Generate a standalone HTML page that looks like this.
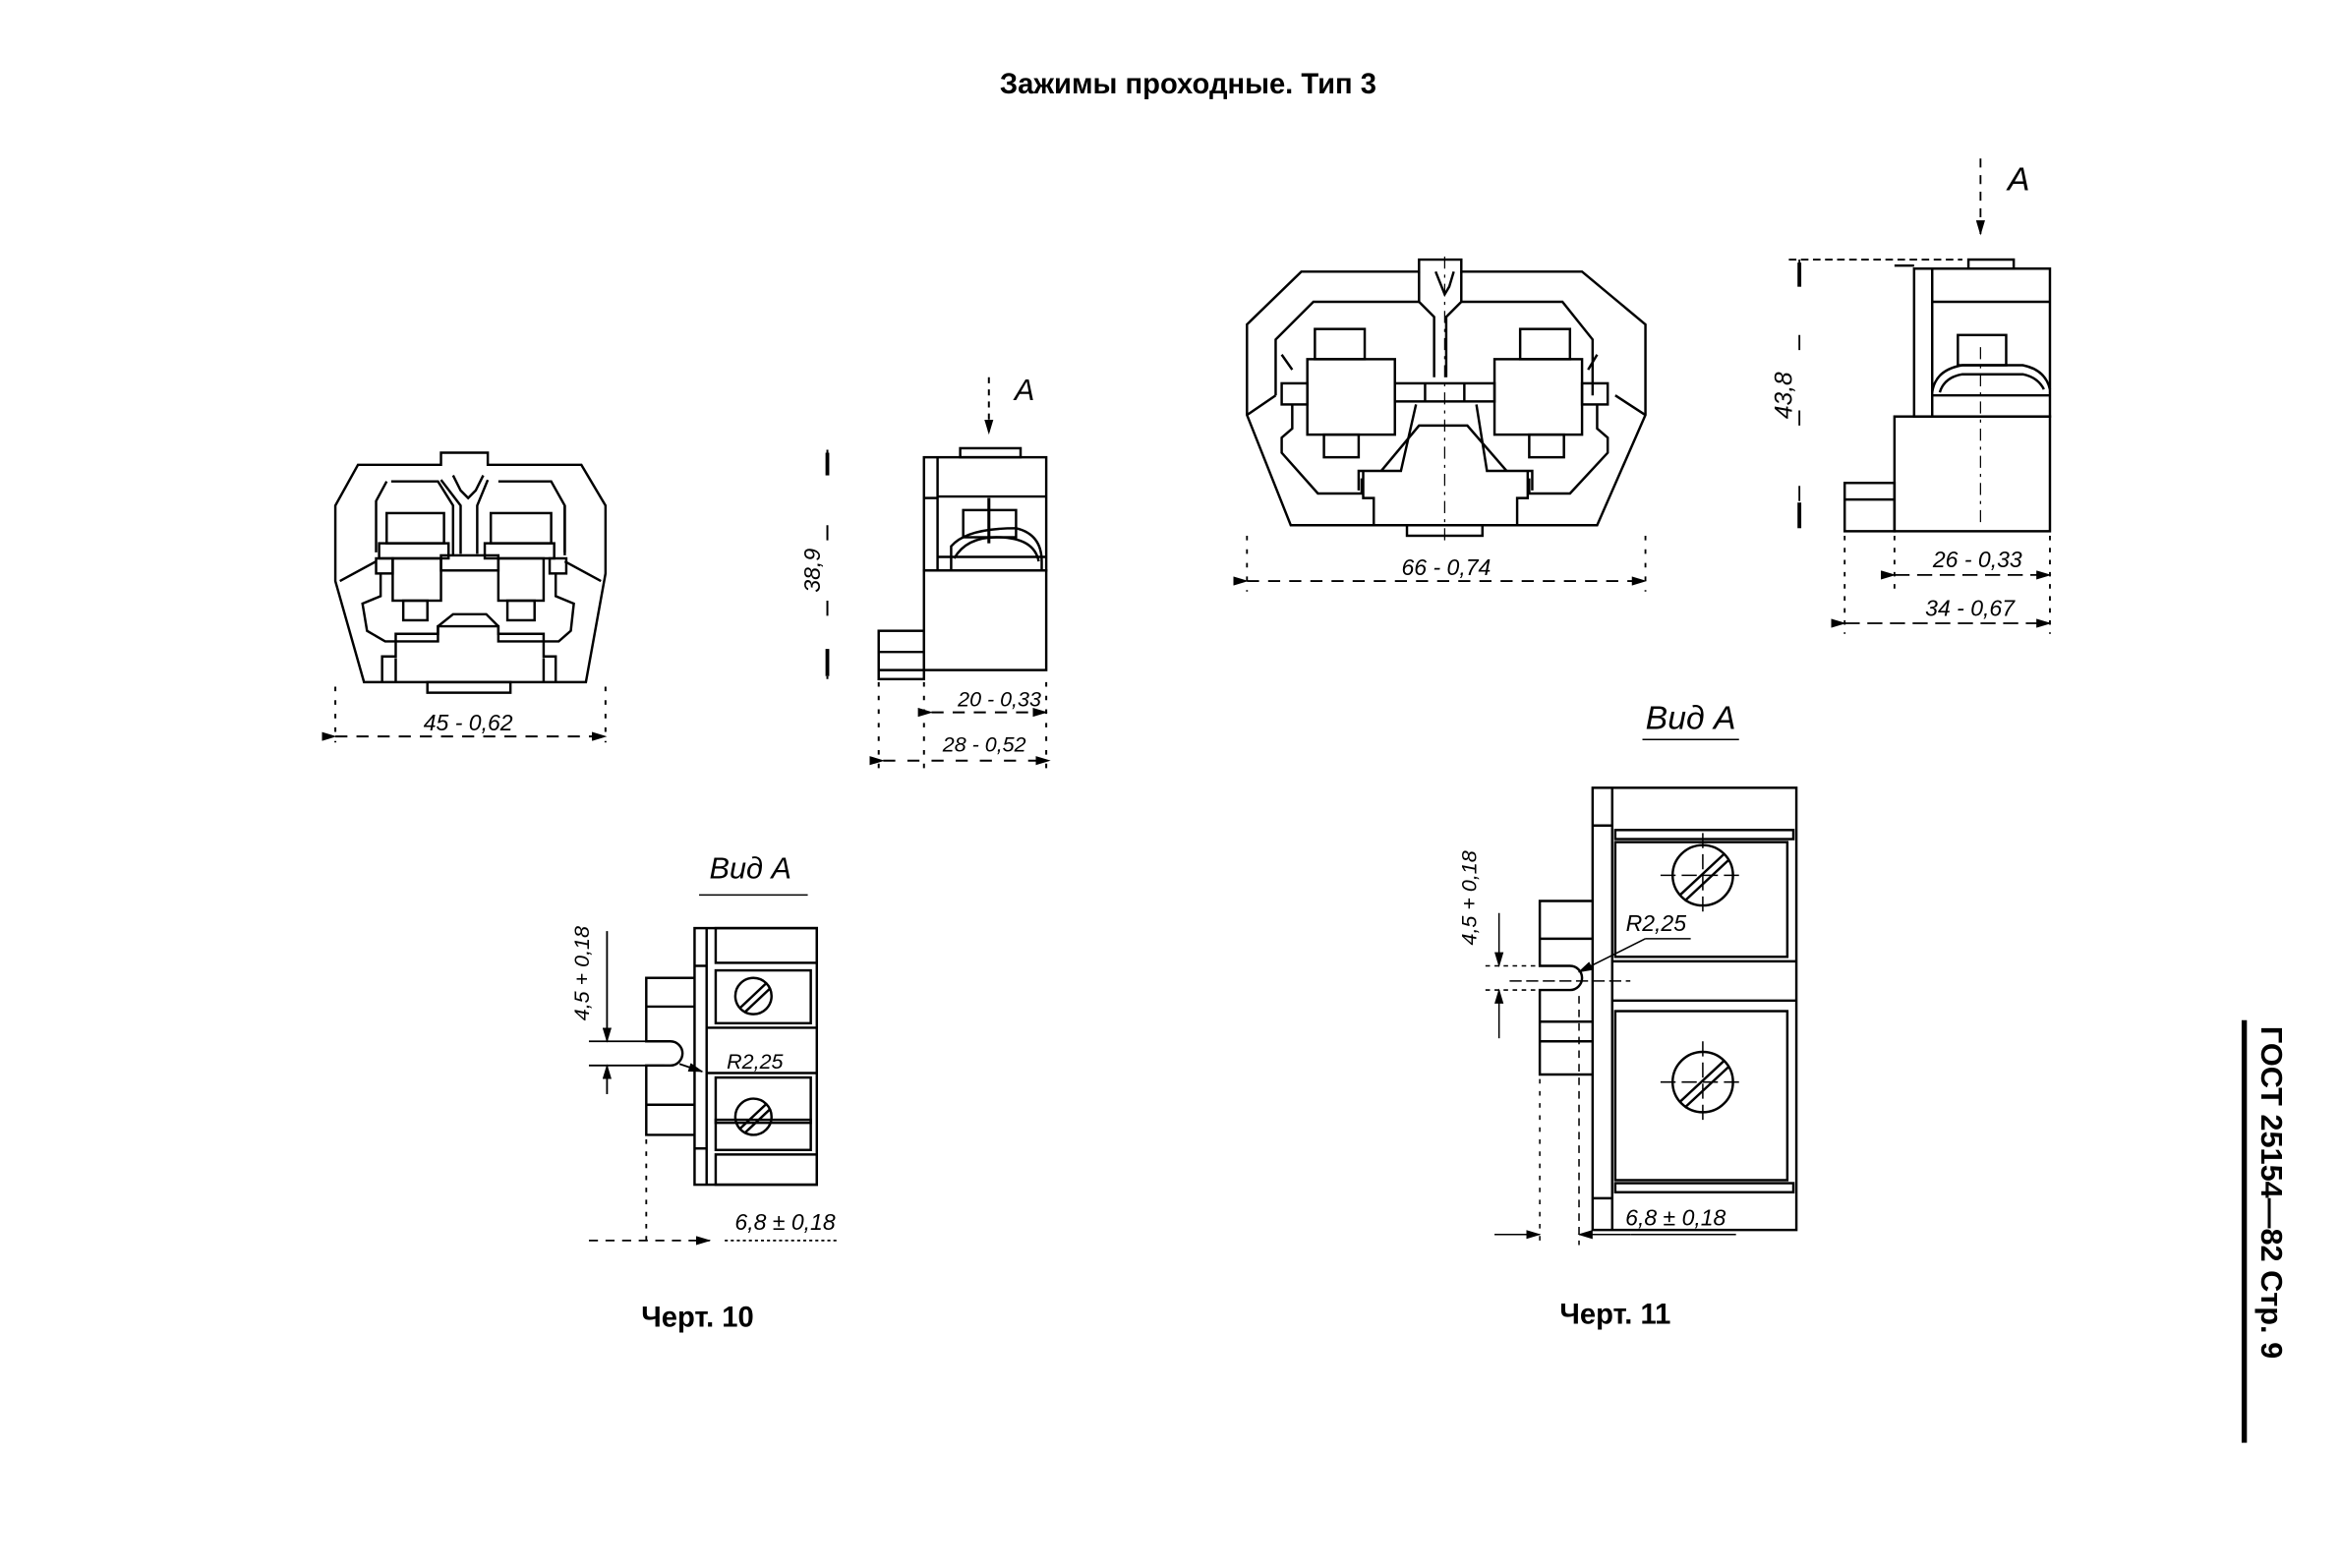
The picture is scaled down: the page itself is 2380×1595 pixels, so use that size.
<!DOCTYPE html>
<html><head><meta charset="utf-8"><style>
html,body{margin:0;padding:0;background:#fff;}
svg{display:block;}
text{font-family:"Liberation Sans","DejaVu Sans",sans-serif;fill:#000;}
.d{font-family:"Liberation Sans Narrow","Liberation Sans",sans-serif;font-style:italic;}
</style></head><body>
<svg width="2380" height="1595" viewBox="0 0 1550 1039" xmlns="http://www.w3.org/2000/svg">
<defs><marker id="ar" markerWidth="10" markerHeight="6" refX="9" refY="3" orient="auto" markerUnits="userSpaceOnUse"><path d="M0,0 L10,3 L0,6 z"/></marker></defs>
<text x="787" y="62" font-size="19" font-weight="bold" text-anchor="middle">Зажимы проходные. Тип 3</text>

<!-- ===== Черт 10 front ===== -->
<g fill="none" stroke="#000" stroke-width="1.6">
<polygon points="237,308 292,308 292,300 323,300 323,308 385,308 401,335 401,380 388,452 241,452 222,385 222,335"/>
<path d="M300,315 L305,325 L310,330 L315,325 L320,315"/>
<path d="M292,318 L305,335 L305,367 M323,318 L316,335 L316,367"/>
<path d="M259,319 L290,319 L300,335 L300,368 M330,319 L365,319 L374,335 L374,368"/>
<path d="M256,319 L249,332 L249,366 M374,335 L374,366"/>
<path d="M225,385 L249,372 M398,385 L374,372"/>
<rect x="256" y="340" width="38" height="20"/>
<rect x="325" y="340" width="40" height="20"/>
<rect x="251" y="360" width="46" height="10"/>
<rect x="321" y="360" width="46" height="10"/>
<rect x="260" y="370" width="32" height="28"/>
<rect x="330" y="370" width="30" height="28"/>
<rect x="249" y="370" width="11" height="10"/>
<rect x="364" y="370" width="11" height="10"/>
<rect x="292" y="368" width="38" height="10"/>
<rect x="267" y="398" width="16" height="13"/>
<rect x="336" y="398" width="18" height="13"/>
<path d="M252,380 L252,395 L240,400 L243,418 L255,425 L290,425 L290,415 L300,407 L322,407 L330,415 L330,425 L370,425 L378,418 L380,400 L368,395 L368,380"/>
<path d="M253,452 L253,435 L262,435 L262,420 L290,420 L290,415 L330,415 L330,420 L360,420 L360,435 L368,435 L368,452"/>
<path d="M262,436 L262,452 M360,436 L360,452"/>
<rect x="283" y="452" width="55" height="7"/>
</g>
<g stroke="#000" stroke-width="1.3" fill="none">
<line x1="222" y1="455" x2="222" y2="492" stroke-dasharray="3,6"/>
<line x1="401" y1="455" x2="401" y2="492" stroke-dasharray="3,6"/>
<line x1="222" y1="488" x2="401" y2="488" stroke-dasharray="8,6" marker-end="url(#ar)" marker-start="url(#ar)"/>
</g>
<text class="d" x="310" y="484" font-size="15" text-anchor="middle">45 - 0,62</text>

<!-- ===== Черт 10 side ===== -->
<g fill="none" stroke="#000" stroke-width="1.6">
<rect x="636" y="297" width="40" height="6"/>
<rect x="612" y="303" width="81" height="75"/>
<line x1="621" y1="303" x2="621" y2="378"/>
<line x1="612" y1="330" x2="621" y2="330"/>
<line x1="621" y1="329" x2="693" y2="329"/>
<rect x="638" y="338" width="35" height="18"/>
<path d="M630,378 L630,362 Q640,350 673,350 Q690,354 690,372 L690,378"/>
<path d="M632,370 Q640,356 660,356 Q685,356 688,372"/>
<line x1="621" y1="369" x2="693" y2="369"/>
<rect x="612" y="378" width="81" height="66"/>
<rect x="582" y="418" width="30" height="32"/>
<line x1="582" y1="432" x2="612" y2="432"/>
<line x1="582" y1="444" x2="612" y2="444"/>
</g>
<g stroke="#000" stroke-width="1.3" fill="none">
<line x1="655" y1="250" x2="655" y2="287" stroke-dasharray="4,4" marker-end="url(#ar)"/>
<line x1="655" y1="330" x2="655" y2="360" stroke-width="2"/>
<line x1="548" y1="298" x2="548" y2="450" stroke-dasharray="10,40"/>
<line x1="548" y1="300" x2="548" y2="315" stroke-width="2.5"/>
<line x1="548" y1="430" x2="548" y2="448" stroke-width="2.5"/>
<line x1="612" y1="452" x2="612" y2="510" stroke-dasharray="3,6"/>
<line x1="693" y1="452" x2="693" y2="510" stroke-dasharray="3,6"/>
<line x1="582" y1="452" x2="582" y2="510" stroke-dasharray="3,6"/>
<line x1="617" y1="472" x2="693" y2="472" stroke-dasharray="8,6" marker-end="url(#ar)" marker-start="url(#ar)"/>
<line x1="585" y1="504" x2="695" y2="504" stroke-dasharray="8,8" marker-end="url(#ar)" marker-start="url(#ar)"/>
</g>
<text class="d" x="672" y="265" font-size="20">A</text>
<text class="d" x="0" y="0" font-size="15" transform="translate(543,378) rotate(-90)" text-anchor="middle">38,9</text>
<text class="d" x="662" y="468" font-size="14" text-anchor="middle">20 - 0,33</text>
<text class="d" x="652" y="498" font-size="14" text-anchor="middle">28 - 0,52</text>

<!-- ===== Черт 10 view A ===== -->
<text class="d" x="497" y="582" font-size="20" text-anchor="middle">Вид A</text>
<line x1="463" y1="593" x2="535" y2="593" stroke="#000" stroke-width="1"/>
<g fill="none" stroke="#000" stroke-width="1.6">
<rect x="460" y="615" width="81" height="170"/>
<line x1="468" y1="615" x2="468" y2="785"/>
<line x1="460" y1="640" x2="468" y2="640"/><line x1="460" y1="761" x2="468" y2="761"/>
<rect x="474" y="615" width="67" height="23"/>
<rect x="474" y="643" width="63" height="35"/>
<rect x="474" y="742" width="63" height="20"/>
<rect x="474" y="765" width="67" height="20"/>
<rect x="474" y="714" width="63" height="30"/>
<line x1="468" y1="681" x2="541" y2="681"/>
<line x1="468" y1="711" x2="541" y2="711"/>
<circle cx="499" cy="660" r="12"/>
<circle cx="499" cy="740" r="12"/>
<line x1="490" y1="668" x2="507" y2="652"/><line x1="493" y1="671" x2="510" y2="655"/>
<line x1="490" y1="748" x2="507" y2="732"/><line x1="493" y1="751" x2="510" y2="735"/>
<path d="M460,648 L428,648 L428,690 L444,690 A8,8 0 0 1 444,706 L428,706 L428,752 L460,752"/>
<line x1="428" y1="667" x2="460" y2="667"/>
<line x1="428" y1="732" x2="460" y2="732"/>
</g>
<g stroke="#000" stroke-width="1.2" fill="none">
<line x1="402" y1="617" x2="402" y2="690" marker-end="url(#ar)"/>
<line x1="402" y1="725" x2="402" y2="706" marker-end="url(#ar)"/>
<line x1="390" y1="690" x2="440" y2="690"/>
<line x1="390" y1="706" x2="440" y2="706"/>
<line x1="450" y1="705" x2="465" y2="710" marker-end="url(#ar)"/>
<line x1="428" y1="755" x2="428" y2="825" stroke-dasharray="3,5"/>
<line x1="390" y1="822" x2="470" y2="822" stroke-dasharray="6,5" marker-end="url(#ar)"/>
<line x1="480" y1="822" x2="556" y2="822" stroke-dasharray="2,2"/>
</g>
<text class="d" x="500" y="708" font-size="14" text-anchor="middle">R2,25</text>
<text class="d" x="0" y="0" font-size="14" transform="translate(390,645) rotate(-90)" text-anchor="middle">4,5 + 0,18</text>
<text class="d" x="520" y="815" font-size="15" text-anchor="middle">6,8 ± 0,18</text>
<text x="462" y="879" font-size="19" font-weight="bold" text-anchor="middle">Черт. 10</text>

<!-- ===== Черт 11 front ===== -->
<g fill="none" stroke="#000" stroke-width="1.6">
<polygon points="862,180 940,180 940,172 968,172 968,180 1048,180 1090,215 1090,275 1058,348 855,348 826,275 826,215"/>
<path d="M951,180 L955,190 L957,195 L960,190 L963,180"/>
<path d="M940,180 L940,200 L950,210 L950,250 M968,180 L968,200 L958,210 L958,250"/>
<path d="M940,200 L870,200 L845,225 L845,262 M968,200 L1035,200 L1055,225 L1055,262"/>
<path d="M826,275 L845,262 M1090,275 L1070,262"/>
<rect x="871" y="218" width="33" height="20"/>
<rect x="1007" y="218" width="33" height="20"/>
<rect x="866" y="238" width="58" height="50"/>
<rect x="990" y="238" width="58" height="50"/>
<rect x="849" y="254" width="17" height="14"/>
<rect x="1048" y="254" width="17" height="14"/>
<path d="M849,235 L856,245 M1058,235 L1052,245"/>
<rect x="924" y="254" width="66" height="12"/>
<line x1="944" y1="254" x2="944" y2="266"/><line x1="970" y1="254" x2="970" y2="266"/>
<rect x="877" y="288" width="23" height="15"/>
<rect x="1013" y="288" width="23" height="15"/>
<path d="M856,268 L856,284 L849,290 L849,300 L873,327 L902,327 L902,317 M1058,268 L1058,284 L1065,290 L1065,300 L1040,327 L1013,327 L1013,317"/>
<path d="M900,325 L900,312 L928,312 L938,268 M1015,325 L1015,312 L985,312 L978,268"/>
<path d="M903,312 L903,330 L910,330 L910,348 M1012,312 L1012,330 L1005,330 L1005,348"/>
<path d="M915,312 L940,282 L972,282 L998,312"/>
<rect x="932" y="348" width="50" height="7"/>
</g>
<g stroke="#000" stroke-width="1.2" fill="none">
<line x1="957" y1="170" x2="957" y2="360" stroke-dasharray="8,4,2,4" stroke-width="0.8"/>
<line x1="826" y1="355" x2="826" y2="392" stroke-dasharray="3,6"/>
<line x1="1090" y1="355" x2="1090" y2="392" stroke-dasharray="3,6"/>
<line x1="826" y1="385" x2="1090" y2="385" stroke-dasharray="8,6" marker-end="url(#ar)" marker-start="url(#ar)"/>
</g>
<text class="d" x="958" y="381" font-size="15" text-anchor="middle">66 - 0,74</text>

<!-- ===== Черт 11 side ===== -->
<g fill="none" stroke="#000" stroke-width="1.6">
<rect x="1304" y="172" width="30" height="6"/>
<rect x="1268" y="178" width="90" height="98"/>
<line x1="1280" y1="178" x2="1280" y2="276"/>
<line x1="1280" y1="200" x2="1358" y2="200"/>
<rect x="1297" y="222" width="32" height="20"/>
<path d="M1280,260 Q1282,245 1300,242 L1340,242 Q1355,245 1358,258"/>
<path d="M1285,260 Q1288,250 1300,248 L1340,248 Q1350,250 1354,258"/>
<line x1="1280" y1="262" x2="1358" y2="262"/>
<rect x="1255" y="276" width="103" height="76"/>
<line x1="1255" y1="176" x2="1268" y2="176"/>
<rect x="1222" y="320" width="33" height="32"/>
<line x1="1222" y1="331" x2="1255" y2="331"/>
</g>
<g stroke="#000" stroke-width="1.2" fill="none">
<line x1="1312" y1="105" x2="1312" y2="155" stroke-dasharray="6,5" marker-end="url(#ar)"/>
<line x1="1312" y1="230" x2="1312" y2="350" stroke-dasharray="8,4,2,4" stroke-width="0.8"/>
<line x1="1185" y1="172" x2="1300" y2="172" stroke-dasharray="5,3"/>
<line x1="1192" y1="172" x2="1192" y2="352" stroke-dasharray="10,40"/>
<line x1="1192" y1="174" x2="1192" y2="190" stroke-width="2.5"/>
<line x1="1192" y1="333" x2="1192" y2="350" stroke-width="2.5"/>
<line x1="1222" y1="355" x2="1222" y2="420" stroke-dasharray="3,5"/>
<line x1="1255" y1="355" x2="1255" y2="390" stroke-dasharray="3,5"/>
<line x1="1358" y1="355" x2="1358" y2="420" stroke-dasharray="3,5"/>
<line x1="1255" y1="381" x2="1358" y2="381" marker-end="url(#ar)" marker-start="url(#ar)" stroke-dasharray="10,5"/>
<line x1="1222" y1="413" x2="1358" y2="413" marker-end="url(#ar)" marker-start="url(#ar)" stroke-dasharray="10,5"/>
</g>
<text class="d" x="1330" y="126" font-size="22">A</text>
<text class="d" x="0" y="0" font-size="16" transform="translate(1187,262) rotate(-90)" text-anchor="middle">43,8</text>
<text class="d" x="1310" y="376" font-size="15" text-anchor="middle">26 - 0,33</text>
<text class="d" x="1305" y="408" font-size="15" text-anchor="middle">34 - 0,67</text>

<!-- ===== Черт 11 view A ===== -->
<text class="d" x="1120" y="483" font-size="22" text-anchor="middle">Вид A</text>
<line x1="1088" y1="490" x2="1152" y2="490" stroke="#000" stroke-width="1"/>
<g fill="none" stroke="#000" stroke-width="1.6">
<rect x="1055" y="522" width="135" height="293"/>
<line x1="1068" y1="522" x2="1068" y2="815"/>
<line x1="1055" y1="547" x2="1068" y2="547"/><line x1="1055" y1="794" x2="1068" y2="794"/>
<rect x="1070" y="550" width="118" height="6"/>
<rect x="1070" y="558" width="114" height="76"/>
<line x1="1068" y1="637" x2="1190" y2="637"/>
<line x1="1068" y1="663" x2="1190" y2="663"/>
<rect x="1070" y="670" width="114" height="112"/>
<rect x="1070" y="784" width="118" height="6"/>
<circle cx="1128" cy="580" r="20"/>
<circle cx="1128" cy="717" r="20"/>
<line x1="1113" y1="593" x2="1142" y2="566"/><line x1="1116" y1="597" x2="1145" y2="570"/>
<line x1="1113" y1="730" x2="1142" y2="703"/><line x1="1116" y1="734" x2="1145" y2="707"/>
<path d="M1055,597 L1020,597 L1020,640 L1040,640 A8,8 0 0 1 1040,656 L1020,656 L1020,712 L1055,712"/>
<line x1="1020" y1="622" x2="1055" y2="622"/>
<line x1="1020" y1="677" x2="1055" y2="677"/>
<line x1="1020" y1="690" x2="1055" y2="690"/>
</g>
<g stroke="#000" stroke-width="1" fill="none">
<line x1="1100" y1="580" x2="1155" y2="580" stroke-dasharray="10,4"/>
<line x1="1100" y1="717" x2="1155" y2="717" stroke-dasharray="10,4"/>
<line x1="1128" y1="552" x2="1128" y2="608" stroke-dasharray="10,4"/>
<line x1="1128" y1="690" x2="1128" y2="745" stroke-dasharray="10,4"/>
<line x1="1090" y1="622" x2="1046" y2="644" marker-end="url(#ar)"/>
<line x1="1090" y1="622" x2="1120" y2="622"/>
<line x1="1000" y1="650" x2="1080" y2="650" stroke-dasharray="8,3"/>
<line x1="984" y1="640" x2="1030" y2="640" stroke-dasharray="3,3"/>
<line x1="984" y1="656" x2="1030" y2="656" stroke-dasharray="3,3"/>
<line x1="993" y1="605" x2="993" y2="640" marker-end="url(#ar)"/>
<line x1="993" y1="688" x2="993" y2="656" marker-end="url(#ar)"/>
<line x1="1020" y1="715" x2="1020" y2="825" stroke-dasharray="3,5"/>
<line x1="1046" y1="660" x2="1046" y2="825" stroke-dasharray="5,4"/>
<line x1="990" y1="818" x2="1020" y2="818" marker-end="url(#ar)"/>
<line x1="1080" y1="818" x2="1046" y2="818" marker-end="url(#ar)"/>
<line x1="1080" y1="818" x2="1150" y2="818"/>
</g>
<text class="d" x="1097" y="617" font-size="15" text-anchor="middle">R2,25</text>
<text class="d" x="0" y="0" font-size="14" transform="translate(978,595) rotate(-90)" text-anchor="middle">4,5 + 0,18</text>
<text class="d" x="1110" y="812" font-size="15" text-anchor="middle">6,8 ± 0,18</text>
<text x="1070" y="877" font-size="19" font-weight="bold" text-anchor="middle">Черт. 11</text>

<!-- side label -->
<rect x="1485" y="676" width="3.5" height="280" fill="#000"/>
<text x="0" y="0" font-size="20" font-weight="bold" transform="translate(1498,680) rotate(90)">ГОСТ 25154—82   Стр. 9</text>
</svg>
</body></html>
